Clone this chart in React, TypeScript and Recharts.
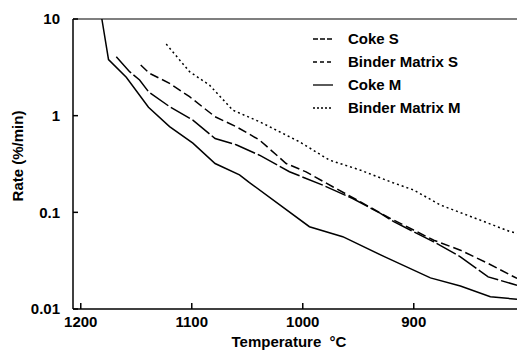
import { LineChart, Line, XAxis, YAxis, ReferenceLine } from "recharts";

const cokeSTemp = [1168, 1156, 1147, 1139, 1120, 1099, 1079, 1060, 1039, 1012, 982, 955, 930, 918, 882, 858, 833, 807];
const cokeSRate = [4.07, 2.85, 2.34, 1.77, 1.24, 0.9, 0.58, 0.5, 0.39, 0.263, 0.191, 0.139, 0.0975, 0.08, 0.0495, 0.0347, 0.0215, 0.0176];

const binderSTemp = [1146, 1138, 1120, 1102, 1079, 1060, 1039, 1015, 997, 973, 951, 924, 882, 858, 833, 807];
const binderSRate = [3.34, 2.74, 2.16, 1.57, 0.975, 0.77, 0.56, 0.32, 0.262, 0.184, 0.134, 0.09, 0.0515, 0.0406, 0.0296, 0.0207];

const cokeMTemp = [1181, 1175, 1159, 1139, 1120, 1099, 1079, 1057, 1048, 994, 964, 927, 885, 858, 831, 807];
const cokeMRate = [10, 3.8, 2.5, 1.22, 0.77, 0.52, 0.32, 0.244, 0.203, 0.071, 0.056, 0.035, 0.021, 0.0173, 0.0134, 0.0126];

const binderMTemp = [1123, 1102, 1084, 1063, 1039, 1030, 1003, 976, 948, 921, 900, 876, 840, 813, 807];
const binderMRate = [5.5, 2.85, 2.07, 1.14, 0.865, 0.77, 0.537, 0.347, 0.273, 0.207, 0.17, 0.119, 0.083, 0.063, 0.061];

const xTicks = [1200, 1100, 1000, 900];
const yTicks = [0.01, 0.1, 1, 10];
const yTickLabels = ["0.01", "0.1", "1", "10"];

const zip = (t: number[], r: number[]) => t.map((v, i) => ({ t: v, r: r[i] }));

const series = [
  { name: "Coke S", data: zip(cokeSTemp, cokeSRate), dash: "22 3", legendDash: "5 2" },
  { name: "Binder Matrix S", data: zip(binderSTemp, binderSRate), dash: "9 4", legendDash: "4 3" },
  { name: "Coke M", data: zip(cokeMTemp, cokeMRate), dash: undefined, legendDash: undefined },
  { name: "Binder Matrix M", data: zip(binderMTemp, binderMRate), dash: "2 3", legendDash: "2 2" },
];

const family = "'Liberation Sans', Arial, sans-serif";
const font = { fontFamily: family, fontWeight: 700, fontSize: 15, fill: "#000" };

const LegendBox = () => (
  <div
    style={{
      position: "absolute",
      left: 313,
      top: 27,
      fontFamily: family,
      fontWeight: 700,
      fontSize: 15,
      color: "#000",
    }}
  >
    {series.map((s) => (
      <div key={s.name} style={{ display: "flex", alignItems: "center", height: 23 }}>
        <svg width={20} height={4} style={{ marginRight: 15 }}>
          <line x1={0} y1={2} x2={20} y2={2} stroke="#000" strokeWidth={1.3} strokeDasharray={s.legendDash} />
        </svg>
        <span>{s.name}</span>
      </div>
    ))}
  </div>
);

const YLabel = () => (
  <text x={17} y={156} transform="rotate(-90 17 156)" textAnchor="middle" dominantBaseline="central" {...font}>
    Rate (%/min)
  </text>
);

export default function App() {
  return (
    <div style={{ position: "absolute", left: 0, top: 0, width: 517, height: 351, background: "#fff" }}>
      <LineChart width={517} height={351} margin={{ top: 19, right: 0, bottom: 0, left: 0 }}>
        <XAxis
          dataKey="t"
          type="number"
          domain={[807, 1207]}
          reversed
          allowDataOverflow
          ticks={xTicks}
          tickSize={-6}
          tickMargin={13}
          height={42}
          stroke="#000"
          strokeWidth={1.5}
          tick={{ ...font }}
          label={{ value: "Temperature \u00a0°C", position: "insideBottom", offset: 4, dx: -6, ...font }}
        />
        <YAxis
          dataKey="r"
          scale="log"
          domain={[0.01, 10]}
          allowDataOverflow
          ticks={yTicks}
          tickFormatter={(v: number) => yTickLabels[yTicks.indexOf(v)] ?? String(v)}
          tickSize={-5}
          tickMargin={18}
          width={73}
          stroke="#000"
          strokeWidth={1.5}
          tick={{ ...font }}
          label={<YLabel />}
        />
        <ReferenceLine y={10} stroke="#000" strokeWidth={1.2} />
        {series.map((s) => (
          <Line
            key={s.name}
            name={s.name}
            data={s.data}
            dataKey="r"
            type="linear"
            stroke="#000"
            strokeWidth={1.5}
            strokeDasharray={s.dash}
            dot={false}
            isAnimationActive={false}
          />
        ))}
      </LineChart>
      <LegendBox />
    </div>
  );
}
